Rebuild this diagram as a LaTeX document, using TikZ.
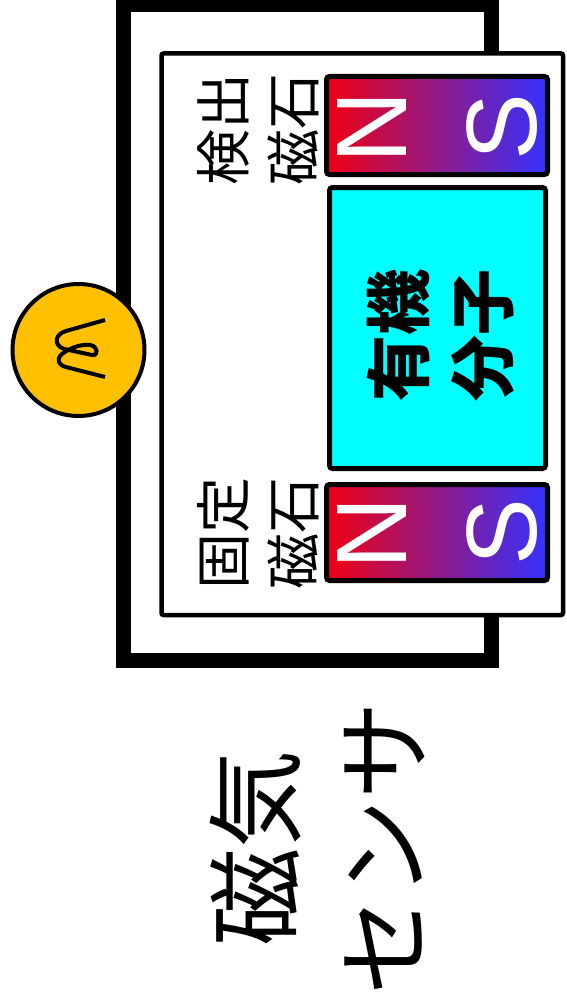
\documentclass[tikz,border=0pt]{standalone}
\usepackage{fontspec}
\setmainfont{Liberation Sans}
\newfontfamily\jp{Noto Sans CJK JP}
\definecolor{magred}{RGB}{240,0,16}
\definecolor{magblue}{RGB}{51,51,255}
\definecolor{lampfill}{RGB}{255,192,0}
\definecolor{samplefill}{RGB}{0,255,255}
\begin{document}
\begin{tikzpicture}[x=1pt,y=-1pt,
  wire/.style={line width=15pt, line join=miter},
  casing/.style={draw, line width=4.5pt, fill=white, rounded corners=2pt, inner sep=0},
  magnet/.style={draw, line width=5pt, rounded corners=3pt, left color=magred, right color=magblue, inner sep=0},
  sample/.style={draw, line width=5pt, rounded corners=3pt, fill=samplefill, inner sep=0},
  pole/.style={text=white, font=\fontsize{100}{100}\selectfont, rotate=90, inner sep=0},
  tag/.style={rotate=90, align=center, inner sep=0},
  lamp/.style={circle, draw, line width=4pt, fill=lampfill, minimum size=132pt, inner sep=0}]
  \useasboundingbox (0,0) rectangle (567,1006);
  % sensor loop wire, partly hidden by the housing
  \coordinate (w1) at (491.5,60);
  \coordinate (w2) at (491.5,4.5);
  \coordinate (w3) at (123.5,4.5);
  \coordinate (w4) at (123.5,660.5);
  \coordinate (w5) at (491.5,660.5);
  \coordinate (w6) at (491.5,600);
  \draw[wire] (w1) -- (w2) -- (w3) -- (w4) -- (w5) -- (w6);
  % housing
  \node[casing, minimum width=401.5pt, minimum height=561.5pt] (box) at (362.25,334.25) {};
  % magnets and sample
  \node[magnet, minimum width=221pt, minimum height=98pt] (detmag) at (437,125.5) {};
  \node[magnet, minimum width=221pt, minimum height=96pt] (fixmag) at (437,532.5) {};
  \node[sample, minimum width=216pt, minimum height=281pt] (mol) at (437.5,328) {};
  \node[pole] (dN) at (372,127) {N};
  \node[pole] (dS) at (502,127) {S};
  \node[pole] (fN) at (372,533) {N};
  \node[pole] (fS) at (502,532) {S};
  % labels
  \node[tag, font=\jp\fontsize{56}{70}\selectfont] (detlbl) at (258,129) {検出\\磁石};
  \node[tag, font=\jp\fontsize{56}{70}\selectfont] (fixlbl) at (258,533) {固定\\磁石};
  \node[tag, font=\jp\bfseries\fontsize{66}{84}\selectfont] (mollbl) at (441,335) {有機\\分子};
  \node[tag, font=\jp\fontsize{98}{128}\selectfont] (title) at (317,848) {磁気\\センサ};
  % indicator lamp on the wire
  \node[lamp] (lampc) at (78.5,350) {};
  \draw[line width=4pt, line cap=butt, line join=round]
    (105,320) -- (66,331) .. controls (55,334) and (53,345) .. (64,349)
    -- (92,355) .. controls (99,356) and (98,346) .. (90,345)
    .. controls (80,344) and (70,348) .. (62,354)
    .. controls (56,359) and (58,365) .. (66,367) -- (105,377);
\end{tikzpicture}
\end{document}
